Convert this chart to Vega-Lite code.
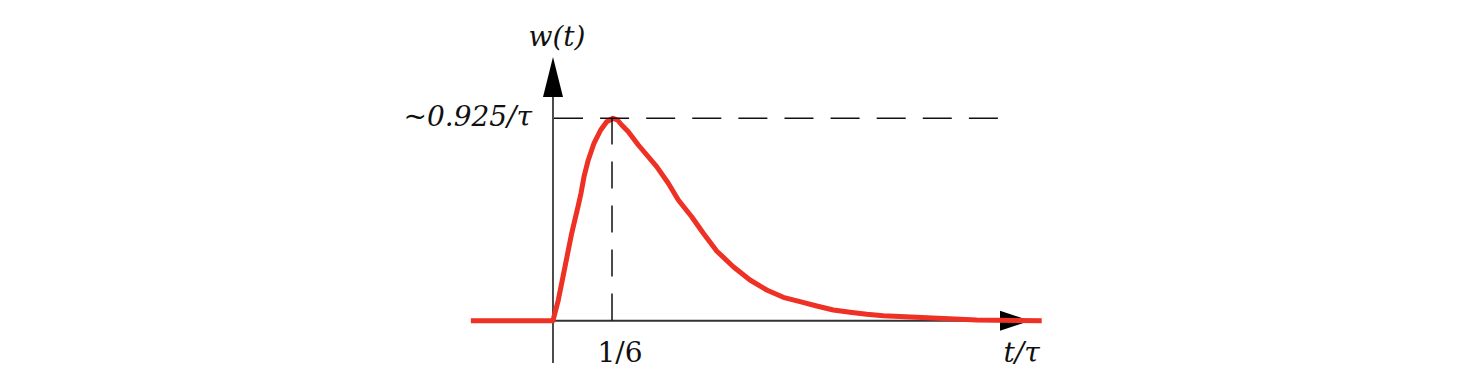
{
  "$schema": "https://vega.github.io/schema/vega-lite/v6.json",
  "autosize": {"type": "fit", "contains": "padding"},
  "width": 1468,
  "height": 390,
  "padding": 0,
  "background": "white",
  "config": {"view": {"stroke": null}},
  "datasets": {
    "curve": [
      {"t": -0.232, "w": 0},
      {"t": 0, "w": 0},
      {"t": 0.015, "w": 0.0942},
      {"t": 0.0339, "w": 0.2458},
      {"t": 0.0528, "w": 0.3978},
      {"t": 0.0715, "w": 0.525},
      {"t": 0.0791, "w": 0.5799},
      {"t": 0.0876, "w": 0.6554},
      {"t": 0.0997, "w": 0.7315},
      {"t": 0.1158, "w": 0.8075},
      {"t": 0.1347, "w": 0.868},
      {"t": 0.1517, "w": 0.9058},
      {"t": 0.1695, "w": 0.9213},
      {"t": 0.1822, "w": 0.9135},
      {"t": 0.1941, "w": 0.8908},
      {"t": 0.2127, "w": 0.8603},
      {"t": 0.241, "w": 0.7997},
      {"t": 0.2929, "w": 0.701},
      {"t": 0.3257, "w": 0.6254},
      {"t": 0.354, "w": 0.5494},
      {"t": 0.3918, "w": 0.4734},
      {"t": 0.4246, "w": 0.3978},
      {"t": 0.4624, "w": 0.3173},
      {"t": 0.5093, "w": 0.2458},
      {"t": 0.5565, "w": 0.1853},
      {"t": 0.6037, "w": 0.1397},
      {"t": 0.6506, "w": 0.1065},
      {"t": 0.6977, "w": 0.0865},
      {"t": 0.7449, "w": 0.0669},
      {"t": 0.7918, "w": 0.0487},
      {"t": 0.839, "w": 0.0382},
      {"t": 0.8862, "w": 0.0291},
      {"t": 0.9331, "w": 0.0228},
      {"t": 0.9802, "w": 0.0191},
      {"t": 1.0876, "w": 0.0109},
      {"t": 1.1969, "w": 0.0032},
      {"t": 1.3805, "w": 0}
    ],
    "yaxis": [{"t": 0, "w": -0.1925, "w2": 1.018}],
    "xaxis": [{"t": 0, "t2": 1.27, "w": 0}],
    "yarrow": [{"t": 0, "w": 1.1093}],
    "xarrow": [{"t": 1.3051, "w": 0}],
    "hdash": [{"t": 0.0028, "t2": 1.2613, "w": 0.921}],
    "vdash": [{"t": 0.1667, "w": 0.925, "w2": 0}],
    "labels_italic": [
      {"t": 0.0113, "w": 1.2503, "label": "w(t)"},
      {"t": 1.324, "w": -0.1866, "label": "t/τ"}
    ],
    "labels_right": [
      {"t": -0.0593, "w": 0.886, "label": "~0.925/τ"}
    ],
    "labels_plain": [
      {"t": 0.1893, "w": -0.1866, "label": "1/6"}
    ]
  },
  "encoding": {
    "x": {"field": "t", "type": "quantitative", "scale": {"domain": [-1.5621, 2.5847], "nice": false, "zero": false}, "axis": null},
    "y": {"field": "w", "type": "quantitative", "scale": {"domain": [-0.3154, 1.4597], "nice": false, "zero": false}, "axis": null}
  },
  "layer": [
    {
      "data": {"name": "yaxis"},
      "mark": {"type": "rule", "color": "#111111", "strokeWidth": 1.5},
      "encoding": {"y2": {"field": "w2"}}
    },
    {
      "data": {"name": "xaxis"},
      "mark": {"type": "rule", "color": "#333333", "strokeWidth": 2},
      "encoding": {"x2": {"field": "t2"}}
    },
    {
      "data": {"name": "yarrow"},
      "mark": {"type": "point", "shape": "M0,-1L0.5,1L-0.5,1Z", "size": 1600, "filled": true, "color": "#000000", "opacity": 1, "strokeWidth": 0}
    },
    {
      "data": {"name": "xarrow"},
      "mark": {"type": "point", "shape": "M1,0L-1,-0.6667L-1,0.6667Z", "size": 900, "filled": true, "color": "#000000", "opacity": 1, "strokeWidth": 0}
    },
    {
      "data": {"name": "curve"},
      "mark": {"type": "line", "color": "#EE3124", "strokeWidth": 5, "strokeJoin": "round", "strokeCap": "butt"},
      "encoding": {"order": {"field": "t", "type": "quantitative"}}
    },
    {
      "data": {"name": "hdash"},
      "mark": {"type": "rule", "color": "#111111", "strokeWidth": 1.5, "strokeDash": [29, 17.1]},
      "encoding": {"x2": {"field": "t2"}}
    },
    {
      "data": {"name": "vdash"},
      "mark": {"type": "rule", "color": "#111111", "strokeWidth": 1.5, "strokeDash": [27, 17]},
      "encoding": {"y2": {"field": "w2"}}
    },
    {
      "data": {"name": "labels_italic"},
      "mark": {"type": "text", "font": "DejaVu Serif", "fontStyle": "italic", "fontSize": 28, "align": "center", "baseline": "alphabetic", "color": "#111111"},
      "encoding": {"text": {"field": "label"}}
    },
    {
      "data": {"name": "labels_right"},
      "mark": {"type": "text", "font": "DejaVu Serif", "fontStyle": "italic", "fontSize": 28, "align": "right", "baseline": "alphabetic", "color": "#111111"},
      "encoding": {"text": {"field": "label"}}
    },
    {
      "data": {"name": "labels_plain"},
      "mark": {"type": "text", "font": "DejaVu Serif", "fontSize": 28, "align": "center", "baseline": "alphabetic", "color": "#111111"},
      "encoding": {"text": {"field": "label"}}
    }
  ]
}
